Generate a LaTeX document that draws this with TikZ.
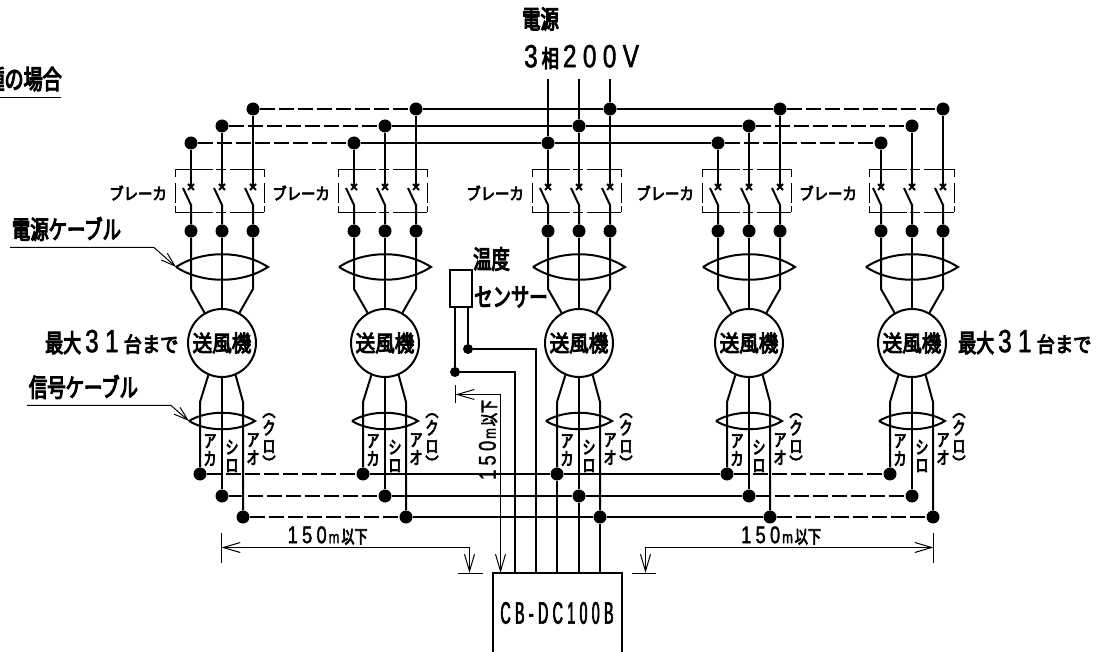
\documentclass[tikz,border=0pt]{standalone}
\usepackage{fontspec}
\setmainfont{Noto Sans CJK JP}
\newfontfamily\cjknarrow[FakeBold=4,FakeStretch=.87]{Noto Sans CJK JP}
\newfontfamily\cjktall[FakeBold=4,FakeStretch=.72]{Noto Sans CJK JP}
\newfontfamily\narrowfont[FakeStretch=.76,LetterSpace=20,FakeBold=1.5]{Liberation Sans}
\newfontfamily\smallfont[FakeStretch=.76,LetterSpace=18,FakeBold=1.5]{Liberation Sans}
\newfontfamily\cbfont[FakeStretch=.46,LetterSpace=14,FakeBold=2]{Liberation Sans}
\usetikzlibrary{arrows.meta}
\newcommand{\bigdgt}[1]{{\narrowfont\fontsize{32}{32}\selectfont #1}}
\newcommand{\smalldgt}[1]{{\smallfont\fontsize{24}{24}\selectfont #1}\kern2pt{\smallfont\fontsize{17}{17}\selectfont m}\kern2pt}
\tikzset{
  wire/.style={line width=2pt},
  busdash/.style={line width=2pt,dash pattern=on 15pt off 4pt},
  thinline/.style={line width=1pt},
  dimline/.style={line width=1pt,{Straight Barb[length=17pt,width=10pt]}-{Straight Barb[length=17pt,width=10pt]}},
  leader/.style={line width=1pt,-{Straight Barb[length=14pt,width=9pt]}},
  joint/.style={circle,fill=black,inner sep=0pt,minimum size=13pt},
  smalljoint/.style={circle,fill=black,inner sep=0pt,minimum size=10pt},
  fan/.style={circle,draw,line width=2pt,inner sep=0pt,minimum size=68pt,font=\cjknarrow\fontsize{22.5}{22.5}\selectfont},
  brkh/.style={line width=1pt,dash pattern=on 38pt off 3pt on 10pt off 4pt on 40pt},
  brkv/.style={line width=1pt,dash pattern=on 8pt off 6pt on 20pt off 3pt on 6pt},
  labeltext/.style={inner sep=0pt,font=\cjktall\fontsize{25.5}{25.5}\selectfont},
  kana/.style={inner sep=0pt,align=center,font=\cjktall\fontsize{18}{18}\selectfont},
  brklabel/.style={inner sep=0pt,anchor=east,font=\cjknarrow\fontsize{16.5}{16.5}\selectfont},
  dimtext/.style={inner sep=0pt,font=\cjktall\fontsize{18}{18}\selectfont},
}
\begin{document}
\begin{tikzpicture}[x=1pt,y=-1pt]
\useasboundingbox (0,0) rectangle (1104,652);
\foreach \u/\x/\bw in {a/222/47,b/385/47,c/579/47,d/749/47,e/912/43}{
  \node[fan] (fan-\u) at (\x,343) {送風機};
  \coordinate (lens-\u-l) at (\x-46,267);
  \coordinate (lens-\u-r) at (\x+46,267);
  \coordinate (sig-\u-l) at (\x-33,421);
  \coordinate (sig-\u-r) at (\x+33,421);
  \draw[wire] (lens-\u-l) .. controls (\x-20,250) and (\x+20,250) .. (lens-\u-r)
    .. controls (\x+20,284) and (\x-20,284) .. (lens-\u-l);
  \draw[wire] (sig-\u-l) .. controls (\x-15,410) and (\x+15,410) .. (sig-\u-r)
    .. controls (\x+15,432) and (\x-15,432) .. (sig-\u-l);
  \draw[brkh] (\x-\bw,169.5) -- (\x+42,169.5);
  \draw[brkh] (\x-\bw,212.5) -- (\x+42,212.5);
  \draw[brkv] (\x-\bw,169.5) -- (\x-\bw,212.5);
  \draw[brkv] (\x+42,169.5) -- (\x+42,212.5);
  \node[brklabel] (brk-\u) at (\x-55,193) {ブレーカ};
  \node[kana] (aka-\u) at (\x-12,450) {ア\\カ};
  \node[kana] (shiro-\u) at (\x+10,456) {シ\\ロ};
  \node[kana] (ao-\u) at (\x+31,449) {ア\\オ};
  \node[kana] (kuro-\u) at (\x+47,442) {︵\\ク\\ロ\\︶};
  \foreach \n/\dx/\ty/\hi/\lo/\bx/\by in {1/-31/143/120/247/-22/474,2/0/126/90/270/0/496,3/31/109/60/293/21/517}{
    \node[joint] (top-\u-\n) at (\x+\dx,\ty) {};
    \node[joint] (mid-\u-\n) at (\x+\dx,231) {};
    \node[joint] (bot-\u-\n) at (\x+\bx,\by) {};
    \draw[wire] (top-\u-\n) -- (\x+\dx,187);
    \draw[wire] (\x+\dx-3,184) -- (\x+\dx+3,190);
    \draw[wire] (\x+\dx+3,184) -- (\x+\dx-3,190);
    \draw[wire] (\x+\dx-8,188) -- (\x+\dx,205) -- (mid-\u-\n);
    \draw[wire] (mid-\u-\n) -- (\x+\dx,289) -- (fan-\u.\hi);
    \draw[wire] (fan-\u.\lo) -- (\x+\bx,402) -- (bot-\u-\n);
  }
}
\foreach \n in {1,2,3}{
  \draw[busdash] (top-a-\n) -- (top-b-\n);
  \draw[wire] (top-b-\n) -- (top-c-\n) -- (top-d-\n);
  \draw[busdash] (top-d-\n) -- (top-e-\n);
  \draw[busdash] (bot-a-\n) -- (bot-b-\n);
  \draw[wire] (bot-b-\n) -- (bot-c-\n) -- (bot-d-\n);
  \draw[busdash] (bot-d-\n) -- (bot-e-\n);
  \coordinate (feed-\n) at (top-c-\n |- 0,79);
  \draw[wire] (feed-\n) -- (top-c-\n);
}
\node[labeltext] (power) at (540.5,19) {電源};
\node[labeltext,anchor=west,font=\cjktall\fontsize{24}{24}\selectfont] (volt) at (524,57) {\bigdgt{3}\kern4pt相\kern4pt\bigdgt{200V}};
\node[labeltext,font=\cjktall\fontsize{26.5}{26.5}\selectfont,anchor=east] (case) at (62,79) {種の場合};
\coordinate (case-a) at (0,97.5);
\coordinate (case-b) at (61,97.5);
\draw[thinline] (case-a) -- (case-b);
\node[labeltext] (pcable) at (66.5,229) {電源ケーブル};
\coordinate (pcable-a) at (10,247.5);
\draw[leader] (pcable-a) -- (154,247.5) -- (lens-a-l);
\node[labeltext] (scable) at (83.5,387) {信号ケーブル};
\coordinate (scable-a) at (27,405.5);
\draw[leader] (scable-a) -- (171,405.5) -- (sig-a-l);
\node[labeltext,anchor=west,font=\cjktall\fontsize{25}{25}\selectfont] (maxl) at (45,342) {最大\kern4pt\bigdgt{31}\kern5pt{\cjknarrow\fontsize{21}{21}\selectfont 台まで}};
\node[labeltext,anchor=west,font=\cjktall\fontsize{25}{25}\selectfont] (maxr) at (958,342) {最大\kern4pt\bigdgt{31}\kern5pt{\cjknarrow\fontsize{21}{21}\selectfont 台まで}};
\node[labeltext] (temp) at (491.5,259) {温度};
\node[labeltext] (sensorlabel) at (511,297) {センサー};
\node[draw,line width=2pt,inner sep=0pt,minimum width=22pt,minimum height=37pt] (sensor) at (461,288.5) {};
\node[smalljoint] (sen-1) at (455,372) {};
\node[smalljoint] (sen-2) at (468,349) {};
\coordinate (ctrl-top) at (557,573);
\coordinate (ctrl-l) at (493,652);
\coordinate (ctrl-r) at (622,652);
\draw[wire] (ctrl-l) |- (ctrl-top) -| (ctrl-r);
\node[inner sep=0pt,font=\cbfont\fontsize{31}{31}\selectfont] (ctrl) at (557,613) {CB-DC100B};
\draw[wire] (sen-1 |- sensor.south) -- (sen-1);
\draw[wire] (sen-2 |- sensor.south) -- (sen-2);
\draw[wire] (sen-1) -| (515,573);
\draw[wire] (sen-2) -| (536,573);
\foreach \n in {1,2,3}{
  \draw[wire] (bot-c-\n) -- (bot-c-\n |- ctrl-top);
}
\coordinate (dimv-a) at (455.5,394.5);
\coordinate (dimv-b) at (500.5,573);
\draw[dimline] (dimv-a) -| (dimv-b);
\draw[thinline] (455.5,385) -- (455.5,403);
\node[dimtext,rotate=90] (dimv-t) at (488,440) {\smalldgt{150}以下};
\coordinate (diml-a) at (221.5,547.5);
\coordinate (diml-b) at (469.5,573);
\draw[dimline] (diml-a) -| (diml-b);
\draw[thinline] (221.5,533) -- (221.5,563);
\draw[thinline] (458,573.5) -- (483,573.5);
\node[dimtext] (diml-t) at (327.5,535.5) {\smalldgt{150}以下};
\coordinate (dimr-a) at (933.5,547.5);
\coordinate (dimr-b) at (645.5,573);
\draw[dimline] (dimr-a) -| (dimr-b);
\draw[thinline] (933.5,533) -- (933.5,563);
\draw[thinline] (632,573.5) -- (656,573.5);
\node[dimtext] (dimr-t) at (781,535.5) {\smalldgt{150}以下};
\end{tikzpicture}
\end{document}
